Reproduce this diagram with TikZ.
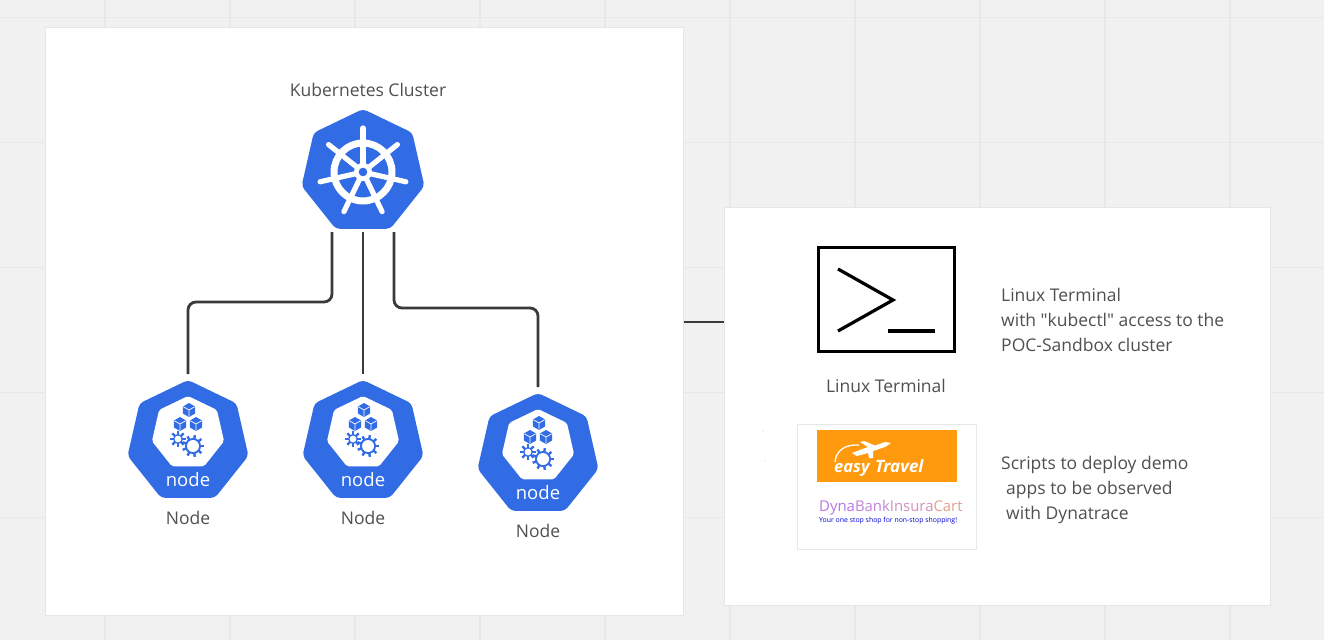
\documentclass[tikz,border=0pt]{standalone}
\usepackage{fontspec}
\setmainfont{Open Sans}[Ligatures=TeXOff]
\definecolor{kblue}{HTML}{326CE5}
\definecolor{canvasbg}{HTML}{F1F1F1}
\definecolor{gridc}{HTML}{E8E8E8}
\definecolor{edgec}{HTML}{E6E6E6}
\definecolor{txt}{HTML}{505050}
\definecolor{linkc}{HTML}{3A3A3A}
\definecolor{orng}{HTML}{FF9A0E}
\tikzset{
  panel/.style={draw=edgec,fill=white,line width=1pt,inner sep=0pt,anchor=north west},
  lbl/.style={text=txt,font=\fontsize{17.5}{17.5}\selectfont,inner sep=0pt,anchor=base},
  para/.style={text=txt,font=\fontsize{17.5}{17.5}\selectfont,inner sep=0pt,anchor=base west},
  link/.style={draw=linkc,line width=2.8pt,rounded corners=8pt},
  hepta/.style={fill=kblue,rounded corners=4pt},
  anchorpt/.style={inner sep=0pt,minimum size=0pt}
}
\newcommand{\heptpath}[1]{(-90:#1)--(-38.57:#1)--(12.86:#1)--(64.29:#1)--(115.71:#1)--(167.14:#1)--(218.57:#1)--cycle}
\newcommand{\kcube}[2]{%
  \begin{scope}[shift={(#1,#2)}]
    \fill[kblue] (-90:7)--(-30:7)--(30:7)--(90:7)--(150:7)--(210:7)--cycle;
    \draw[white,line width=.7pt] (-150:6.5)--(0,0)--(-30:6.5) (0,0)--(90:6.5);
  \end{scope}}
\newcommand{\kgear}[5]{% x y r teeth holer
  \begin{scope}[shift={(#1,#2)}]
    \foreach \t in {1,...,#4}{\draw[kblue,line width=2.4pt] (\t*360/#4:#3-1)--(\t*360/#4:#3+3);}
    \fill[kblue] (0,0) circle (#3);
    \fill[white] (0,0) circle (#5);
  \end{scope}}
\newcommand{\knode}[2]{% cx cy
  \begin{scope}[shift={(#1,#2)}]
    \fill[hepta] \heptpath{62};
    \begin{scope}[shift={(0,-9)}]
      \fill[white,rounded corners=2pt] \heptpath{37};
    \end{scope}
    \kcube{1}{-32}\kcube{-8}{-18}\kcube{8}{-18}
    \kgear{-10}{-3}{5}{8}{3.4}
    \kgear{5}{4}{8}{9}{6}
    \node[text=white,font=\fontsize{18.5}{18.5}\selectfont,inner sep=0pt] at (0,38) {node};
  \end{scope}}
\begin{document}
\begin{tikzpicture}[x=1pt,y=-1pt]
\useasboundingbox (0,0) rectangle (1324,640);
\fill[canvasbg] (0,0) rectangle (1324,640);
\foreach \g in {105,230,355,480,605,730,855,980,1105,1230}{\draw[gridc,line width=1.2pt] (\g,0)--(\g,640);}
\foreach \g in {17,142,267,392,517}{\draw[gridc,line width=1pt] (0,\g)--(1324,\g);}

% panels
\node[panel,minimum width=638pt,minimum height=588pt] (clusterpanel) at (44.7,27) {};
\node[panel,minimum width=546pt,minimum height=398pt] (termpanel) at (724,206.7) {};
\draw[linkc,line width=2.2pt] (clusterpanel.east |- 0,322) -- (termpanel.west |- 0,322);

% cluster icon
\begin{scope}[shift={(363,172)}]
  \fill[hepta] \heptpath{63};
  \foreach \a in {-90,-38.57,12.86,64.29,115.71,167.14,218.57}{
    \draw[white,line width=5.2pt,line cap=round] (0,0)--(\a:44);}
  \draw[white,line width=7pt] (0,0) circle (29);
  \fill[white] (0,0) circle (9);
  \fill[kblue] (0,0) circle (4.3);
\end{scope}
\node[anchorpt] (cluster) at (363,232) {};
\node[lbl] (clusterlbl) at (368,96) {Kubernetes Cluster};

% worker nodes
\knode{188}{442}
\knode{363}{442}
\knode{538}{455}
\node[anchorpt] (n1) at (188,374) {};
\node[anchorpt] (n2) at (363,374) {};
\node[anchorpt] (n3) at (538,387) {};
\node[lbl] (n1lbl) at (188,524) {Node};
\node[lbl] (n2lbl) at (363,524) {Node};
\node[lbl] (n3lbl) at (538,537) {Node};

\draw[link] ([xshift=-31pt]cluster.center) -- ++(0,70) -| (n1.center);
\draw[link] (cluster.center) -- (n2.center);
\draw[link] ([xshift=31pt]cluster.center) -- ++(0,76) -| (n3.center);

% terminal
\node[draw=black,line width=3.8pt,fill=white,minimum width=136pt,minimum height=104pt,inner sep=0pt] (term) at (886.5,299.5) {};
\draw[black,line width=3.2pt] (838,269)--(893,300)--(838,331);
\draw[black,line width=3.2pt] (888,331)--(935,331);
\node[lbl] (termlbl) at (886,392) {Linux Terminal};
\node[para] (t1) at (1001,301) {Linux Terminal};
\node[para] (t2) at (1001,326) {with "kubectl" access to the};
\node[para] (t3) at (1001,351) {POC-Sandbox cluster};

% apps logos
\fill[green!45!white] (763,431) circle (.6) (765,461) circle (.6);
\node[panel,draw=gridc,minimum width=179pt,minimum height=125pt] (logobox) at (797,424) {};
\node[fill=orng,minimum width=140pt,minimum height=52pt,inner sep=0pt,anchor=north west] (easy) at (817,430) {};
\node[text=white,font=\fontsize{16.5}{16.5}\selectfont\bfseries\itshape,inner sep=0pt,anchor=base west] (easytxt) at (834,472) {easy};
\node[text=white,font=\fontsize{17}{17}\selectfont\bfseries\itshape,inner sep=0pt,anchor=base west] (traveltxt) at (875,472) {Travel};
\draw[white,line width=1.3pt] (835,462) .. controls (836,450) and (846,444) .. (859,445);
\fill[white] (852,453) -- (868,447) -- (860,442) -- (864,441) -- (875,445.5) -- (885,442) -- (891,443) -- (885,447) -- (873,451) -- (873,458) -- (869,458) -- (868,453) -- (857,456) -- cycle;
\node[inner sep=0pt,anchor=west,font=\fontsize{14.9}{15}\selectfont] (dyna) at (819,507.5) {\textcolor[HTML]{B478E6}{Dyna}\textcolor[HTML]{C284D6}{Bank}\textcolor[HTML]{D092BE}{Insura}\textcolor[HTML]{E3A08F}{Cart}};
\node[inner sep=0pt,anchor=west,text=blue!85!black,font=\fontsize{6.9}{7}\selectfont] (tagline) at (819,521) {Your one stop shop for non-stop shopping!};
\node[para] (s1) at (1001,469) {Scripts to deploy demo};
\node[para] (s2) at (1006,494) {apps to be observed};
\node[para] (s3) at (1006,519) {with Dynatrace};
\end{tikzpicture}
\end{document}
